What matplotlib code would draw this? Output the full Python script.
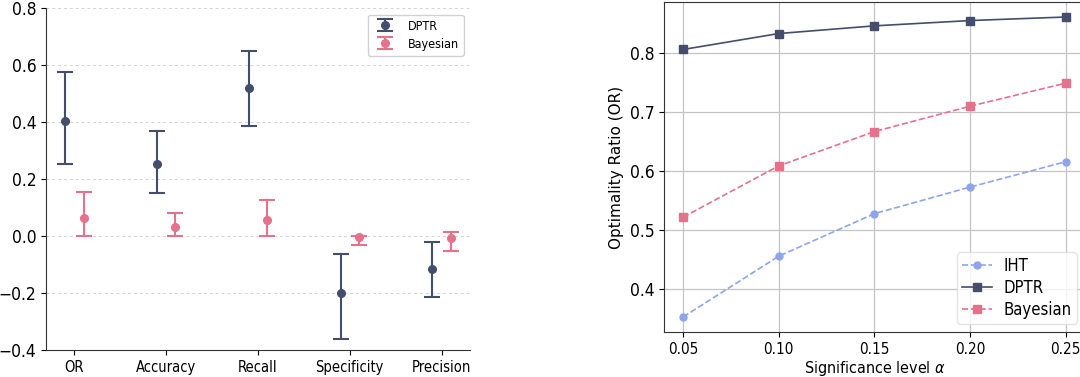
import matplotlib
matplotlib.use("Agg")
import matplotlib.pyplot as plt
import numpy as np

# the reference text looks horizontally squeezed, so use the condensed face
plt.rcParams['font.family'] = ['DejaVu Sans']
plt.rcParams['font.stretch'] = 'condensed'

# Left panel: difference in metrics, mean with asymmetric intervals
metrics = ["OR", "Accuracy", "Recall", "Specificity", "Precision"]
dptr_mean = [0.403, 0.254, 0.519, -0.199, -0.117]
dptr_low = [0.254, 0.150, 0.388, -0.362, -0.214]
dptr_high = [0.577, 0.370, 0.651, -0.064, -0.021]
bayes_mean = [0.062, 0.033, 0.055, -0.004, -0.005]
bayes_low = [0.000, 0.000, 0.000, -0.032, -0.052]
bayes_high = [0.154, 0.080, 0.126, 0.000, 0.015]

# Right panel: optimality ratio vs significance level
alphas = [0.05, 0.10, 0.15, 0.20, 0.25]
alpha_labels = ['0.05', '0.10', '0.15', '0.20', '0.25']
iht_or = [0.353, 0.456, 0.528, 0.573, 0.616]
dptr_or = [0.806, 0.833, 0.846, 0.855, 0.861]
bayes_or = [0.522, 0.609, 0.667, 0.710, 0.749]

c_dptr = '#454d6d'
c_bayes = '#e5718a'
c_iht = '#8ea5ea'

fig = plt.figure(figsize=(10.8, 3.77), dpi=100)

# ---- left panel ----
ax1 = fig.add_axes([0.0426, 0.0716, 0.3926, 0.9063])
x = np.arange(len(metrics))
dm = np.array(dptr_mean)
bm = np.array(bayes_mean)
ax1.errorbar(x - 0.1, dm, yerr=[dm - np.array(dptr_low), np.array(dptr_high) - dm],
             fmt='o', color=c_dptr, ecolor=c_dptr, markersize=5.5, capsize=5.5,
             elinewidth=1.5, capthick=1.5, label='DPTR', zorder=3)
ax1.errorbar(x + 0.1, bm, yerr=[bm - np.array(bayes_low), np.array(bayes_high) - bm],
             fmt='o', color=c_bayes, ecolor=c_bayes, markersize=5.5, capsize=5.5,
             elinewidth=1.5, capthick=1.5, label='Bayesian', zorder=3)
ax1.set_xticks(x)
ax1.set_xticklabels(metrics, fontsize=10.5)
ax1.set_ylim(-0.4, 0.8)
ax1.set_yticks([-0.4, -0.2, 0.0, 0.2, 0.4, 0.6, 0.8])
ax1.tick_params(axis='y', labelsize=12.5)
ax1.yaxis.grid(True, linestyle=(0, (3, 3)), color='#d4d4d4', linewidth=0.7)
ax1.set_axisbelow(True)
for s in ['top', 'right']:
    ax1.spines[s].set_visible(False)
for s in ['left', 'bottom']:
    ax1.spines[s].set_color('#333333')
ax1.legend(loc='upper right', fontsize=9, framealpha=0.9, edgecolor='#cccccc',
           labelspacing=0.4)

# ---- right panel ----
ax2 = fig.add_axes([0.6148, 0.1194, 0.3898, 0.8753])
ax2.plot(alphas, iht_or, '--o', color=c_iht, markersize=5, linewidth=1.2, label='IHT')
ax2.plot(alphas, dptr_or, '-s', color=c_dptr, markersize=5.5, linewidth=1.2, label='DPTR')
ax2.plot(alphas, bayes_or, '--s', color=c_bayes, markersize=5.5, linewidth=1.2, label='Bayesian')
ax2.set_xticks(alphas)
ax2.set_xticklabels(alpha_labels, fontsize=11)
ax2.set_yticks([0.4, 0.5, 0.6, 0.7, 0.8])
ax2.tick_params(axis='y', labelsize=12.5)
ax2.set_xlabel(r'Significance level $\alpha$', fontsize=11.5, labelpad=2)
ax2.set_ylabel('Optimality Ratio (OR)', fontsize=11, fontstretch='normal')
ax2.grid(True, color='#c4c4c4', linewidth=0.9)
ax2.set_axisbelow(True)
for s in ax2.spines.values():
    s.set_color('#333333')
ax2.legend(loc='lower right', fontsize=12, edgecolor='#dddddd',
           labelspacing=0.22, borderpad=0.3, handlelength=1.8, handletextpad=0.7)

fig.savefig('out.png', dpi=100, facecolor='white')
